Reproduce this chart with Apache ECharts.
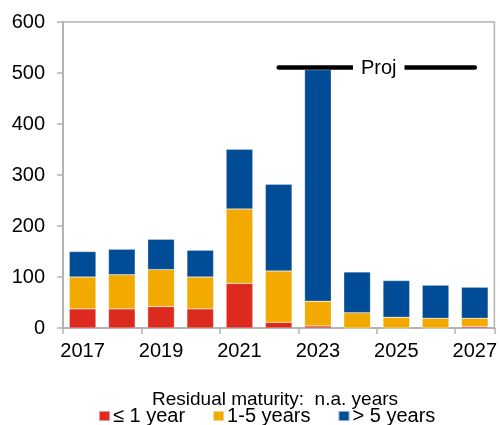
<!DOCTYPE html>
<html>
<head>
<meta charset="utf-8">
<script src="https://cdn.jsdelivr.net/npm/echarts@6/dist/echarts.min.js"></script>
<style>
  html, body { margin: 0; padding: 0; background: #fff; }
  #chart { width: 500px; height: 425px; }
</style>
</head>
<body>
<div id="chart"></div>
<script>
  // years on the x axis
  var years = ['2017', '2018', '2019', '2020', '2021', '2022', '2023', '2024', '2025', '2026', '2027'];
  // stacked pieces
  var upToOne = [37.5, 37.5, 42, 37.5, 87.5, 11, 4, 0, 0, 0, 3];
  var oneToFive = [62.5, 67, 72.5, 62.5, 146, 101, 48.5, 30, 21, 19, 16];
  var overFive = [50, 50, 59.5, 52.5, 117, 170, 454, 80, 72, 65, 61];
  var yTicks = [0, 100, 200, 300, 400, 500, 600];
  var projLevel = 511;

  var font = "'Liberation Sans', Arial, sans-serif";
  var axisGrey = '#b3b3b3';

  var chart = echarts.init(document.getElementById('chart'));
  chart.setOption({
    animation: false,
    textStyle: { fontFamily: font },
    title: {
      text: 'Residual maturity:  n.a. years',
      left: 147,
      top: 385,
      textStyle: { fontSize: 19, fontWeight: 'normal', color: '#000', fontFamily: font }
    },
    legend: {
      top: 401,
      left: 93,
      itemWidth: 11,
      itemHeight: 10,
      itemGap: 27,
      icon: 'rect',
      textStyle: { fontSize: 20, color: '#000', fontFamily: font, padding: [0, 0, 0, -2] },
      data: ['≤ 1 year', '1-5 years', '> 5 years']
    },
    grid: {
      left: 63,
      right: 5,
      top: 22,
      bottom: 97,
      show: true,
      borderColor: axisGrey,
      borderWidth: 1.5
    },
    xAxis: {
      type: 'category',
      data: years,
      axisLine: { lineStyle: { color: axisGrey, width: 2 } },
      axisTick: { show: true, length: 6, lineStyle: { color: axisGrey, width: 1.5 } },
      axisLabel: { interval: 1, color: '#000', fontSize: 20, margin: 13 }
    },
    yAxis: {
      type: 'value',
      min: yTicks[0],
      max: yTicks[yTicks.length - 1],
      interval: 100,
      splitLine: { show: false },
      axisLine: { show: true, lineStyle: { color: axisGrey, width: 2 } },
      axisTick: { show: true, length: 6, lineStyle: { color: axisGrey, width: 1.5 } },
      axisLabel: { color: '#000', fontSize: 20, margin: 18 }
    },
    series: [
      {
        name: '≤ 1 year',
        type: 'bar',
        stack: 'total',
        barWidth: '68%',
        itemStyle: { color: '#dc2a1f', borderColor: 'rgba(255,255,255,0.5)', borderWidth: 0.5 },
        data: upToOne
      },
      {
        name: '1-5 years',
        type: 'bar',
        stack: 'total',
        itemStyle: { color: '#f2a900', borderColor: 'rgba(255,255,255,0.5)', borderWidth: 0.5 },
        data: oneToFive
      },
      {
        name: '> 5 years',
        type: 'bar',
        stack: 'total',
        itemStyle: { color: '#004c97', borderColor: 'rgba(255,255,255,0.5)', borderWidth: 0.5 },
        data: overFive,
        markLine: {
          silent: true,
          symbol: ['none', 'none'],
          lineStyle: { color: '#000', width: 4.5, type: 'solid', cap: 'round' },
          label: {
            show: true,
            position: 'middle',
            formatter: 'Proj',
            color: '#000',
            fontSize: 20,
            fontFamily: font,
            backgroundColor: '#fff',
            padding: [2, 8, 2, 8],
            distance: 0,
            offset: [2, 13]
          },
          data: [[{ coord: ['2022', projLevel] }, { coord: ['2027', projLevel] }]]
        }
      }
    ]
  });
</script>
</body>
</html>
